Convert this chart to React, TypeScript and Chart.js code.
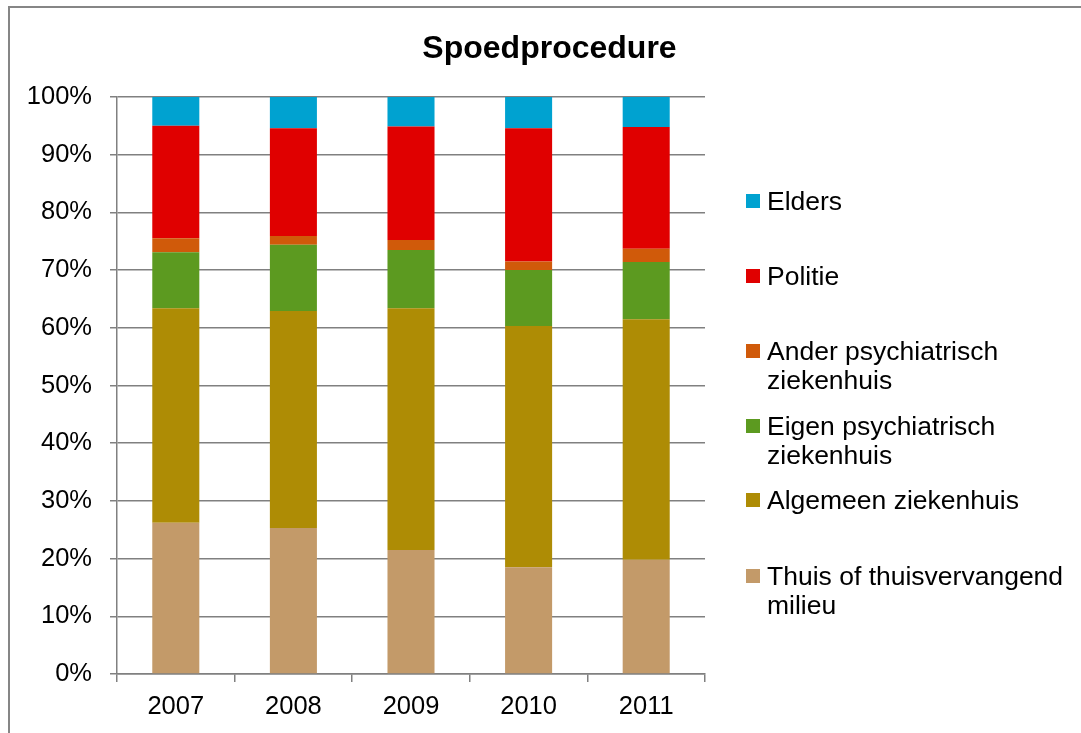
import React, { useEffect, useRef } from "react";
import { Chart, registerables } from "chart.js";

Chart.register(...registerables);

const years = ["2007", "2008", "2009", "2010", "2011"];
const thuis = [26.2, 25.3, 21.5, 18.5, 19.8];
const algemeen = [37.2, 37.6, 41.9, 41.8, 41.7];
const eigen = [9.7, 11.5, 10.1, 9.7, 9.9];
const ander = [2.4, 1.5, 1.7, 1.5, 2.3];
const politie = [19.5, 18.7, 19.7, 23.1, 21.1];
const elders = [5.0, 5.4, 5.1, 5.4, 5.2];
const yTicks = [0, 10, 20, 30, 40, 50, 60, 70, 80, 90, 100];

const seriesNames = [
  "Thuis of thuisvervangend milieu",
  "Algemeen ziekenhuis",
  "Eigen psychiatrisch ziekenhuis",
  "Ander psychiatrisch ziekenhuis",
  "Politie",
  "Elders",
];
const seriesColors = ["#C39A69", "#AE8C05", "#5C9A20", "#D05A0A", "#E00000", "#00A2D0"];
const seriesData = [thuis, algemeen, eigen, ander, politie, elders];

const legendItems = [
  { idx: 5, lines: ["Elders"], top: 201 },
  { idx: 4, lines: ["Politie"], top: 276 },
  { idx: 3, lines: ["Ander psychiatrisch", "ziekenhuis"], top: 351 },
  { idx: 2, lines: ["Eigen psychiatrisch", "ziekenhuis"], top: 426 },
  { idx: 1, lines: ["Algemeen ziekenhuis"], top: 500 },
  { idx: 0, lines: ["Thuis of thuisvervangend", "milieu"], top: 576 },
];

const FONT = "'Liberation Sans', Arial, sans-serif";

export default function App() {
  const ref = useRef<HTMLCanvasElement | null>(null);

  useEffect(() => {
    if (!ref.current) return;
    const chart = new Chart(ref.current, {
      type: "bar",
      data: {
        labels: years,
        datasets: seriesNames.map((name, i) => ({
          label: name,
          data: seriesData[i],
          backgroundColor: seriesColors[i],
          borderWidth: 0,
          barPercentage: 0.4,
          categoryPercentage: 1,
        })),
      },
      options: {
        animation: false,
        responsive: false,
        maintainAspectRatio: false,
        layout: { padding: { left: 0, right: 376, top: 97, bottom: 0 } },
        plugins: {
          legend: { display: false },
          title: { display: false },
          tooltip: { enabled: false },
        },
        scales: {
          x: {
            stacked: true,
            afterFit: (s: any) => {
              s.height = 59;
            },
            grid: {
              display: true,
              drawOnChartArea: false,
              drawTicks: true,
              tickLength: 8,
              color: "#808080",
              lineWidth: 1.5,
              offset: true,
            },
            border: { display: true, color: "#808080", width: 1.5 },
            ticks: {
              color: "#000",
              font: { family: FONT, size: 25.5 },
              padding: 10,
              maxRotation: 0,
            },
          },
          y: {
            stacked: true,
            min: 0,
            max: 100,
            afterFit: (s: any) => {
              s.width = 117;
            },
            afterBuildTicks: (s: any) => {
              s.ticks = yTicks.map((v) => ({ value: v }));
            },
            grid: {
              color: "#808080",
              lineWidth: 1.5,
              tickLength: 7,
              drawTicks: true,
            },
            border: { display: true, color: "#808080", width: 1.5 },
            ticks: {
              color: "#000",
              font: { family: FONT, size: 25.5 },
              padding: 18,
              callback: (v: any) => v + "%",
            },
          },
        },
      },
    });
    return () => chart.destroy();
  }, []);

  return (
    <div style={{ position: "fixed", left: 0, top: 0, width: 1081, height: 733, background: "#fff", overflow: "hidden" }}>
      <div
        style={{
          position: "absolute",
          left: 8,
          top: 6,
          width: 1200,
          height: 900,
          borderLeft: "2px solid #868686",
          borderTop: "2px solid #868686",
        }}
      />
      <canvas ref={ref} width={1081} height={733} style={{ position: "absolute", left: 0, top: 0 }} />
      <div
        style={{
          position: "absolute",
          left: 0,
          width: 1099,
          top: 47 - 19,
          lineHeight: "38px",
          textAlign: "center",
          fontFamily: FONT,
          fontWeight: "bold",
          fontSize: 32,
          color: "#000",
        }}
      >
        Spoedprocedure
      </div>
      {legendItems.map((it) => (
        <div
          key={it.idx}
          style={{ position: "absolute", left: 746, top: it.top - 14.5, fontFamily: FONT, fontSize: 26.5, lineHeight: "29px", color: "#000" }}
        >
          <span
            style={{
              position: "absolute",
              left: 0,
              top: 7.5,
              width: 14,
              height: 14,
              background: seriesColors[it.idx],
            }}
          />
          <div style={{ marginLeft: 21, whiteSpace: "nowrap" }}>
            {it.lines.map((l, j) => (
              <div key={j}>{l}</div>
            ))}
          </div>
        </div>
      ))}
    </div>
  );
}
